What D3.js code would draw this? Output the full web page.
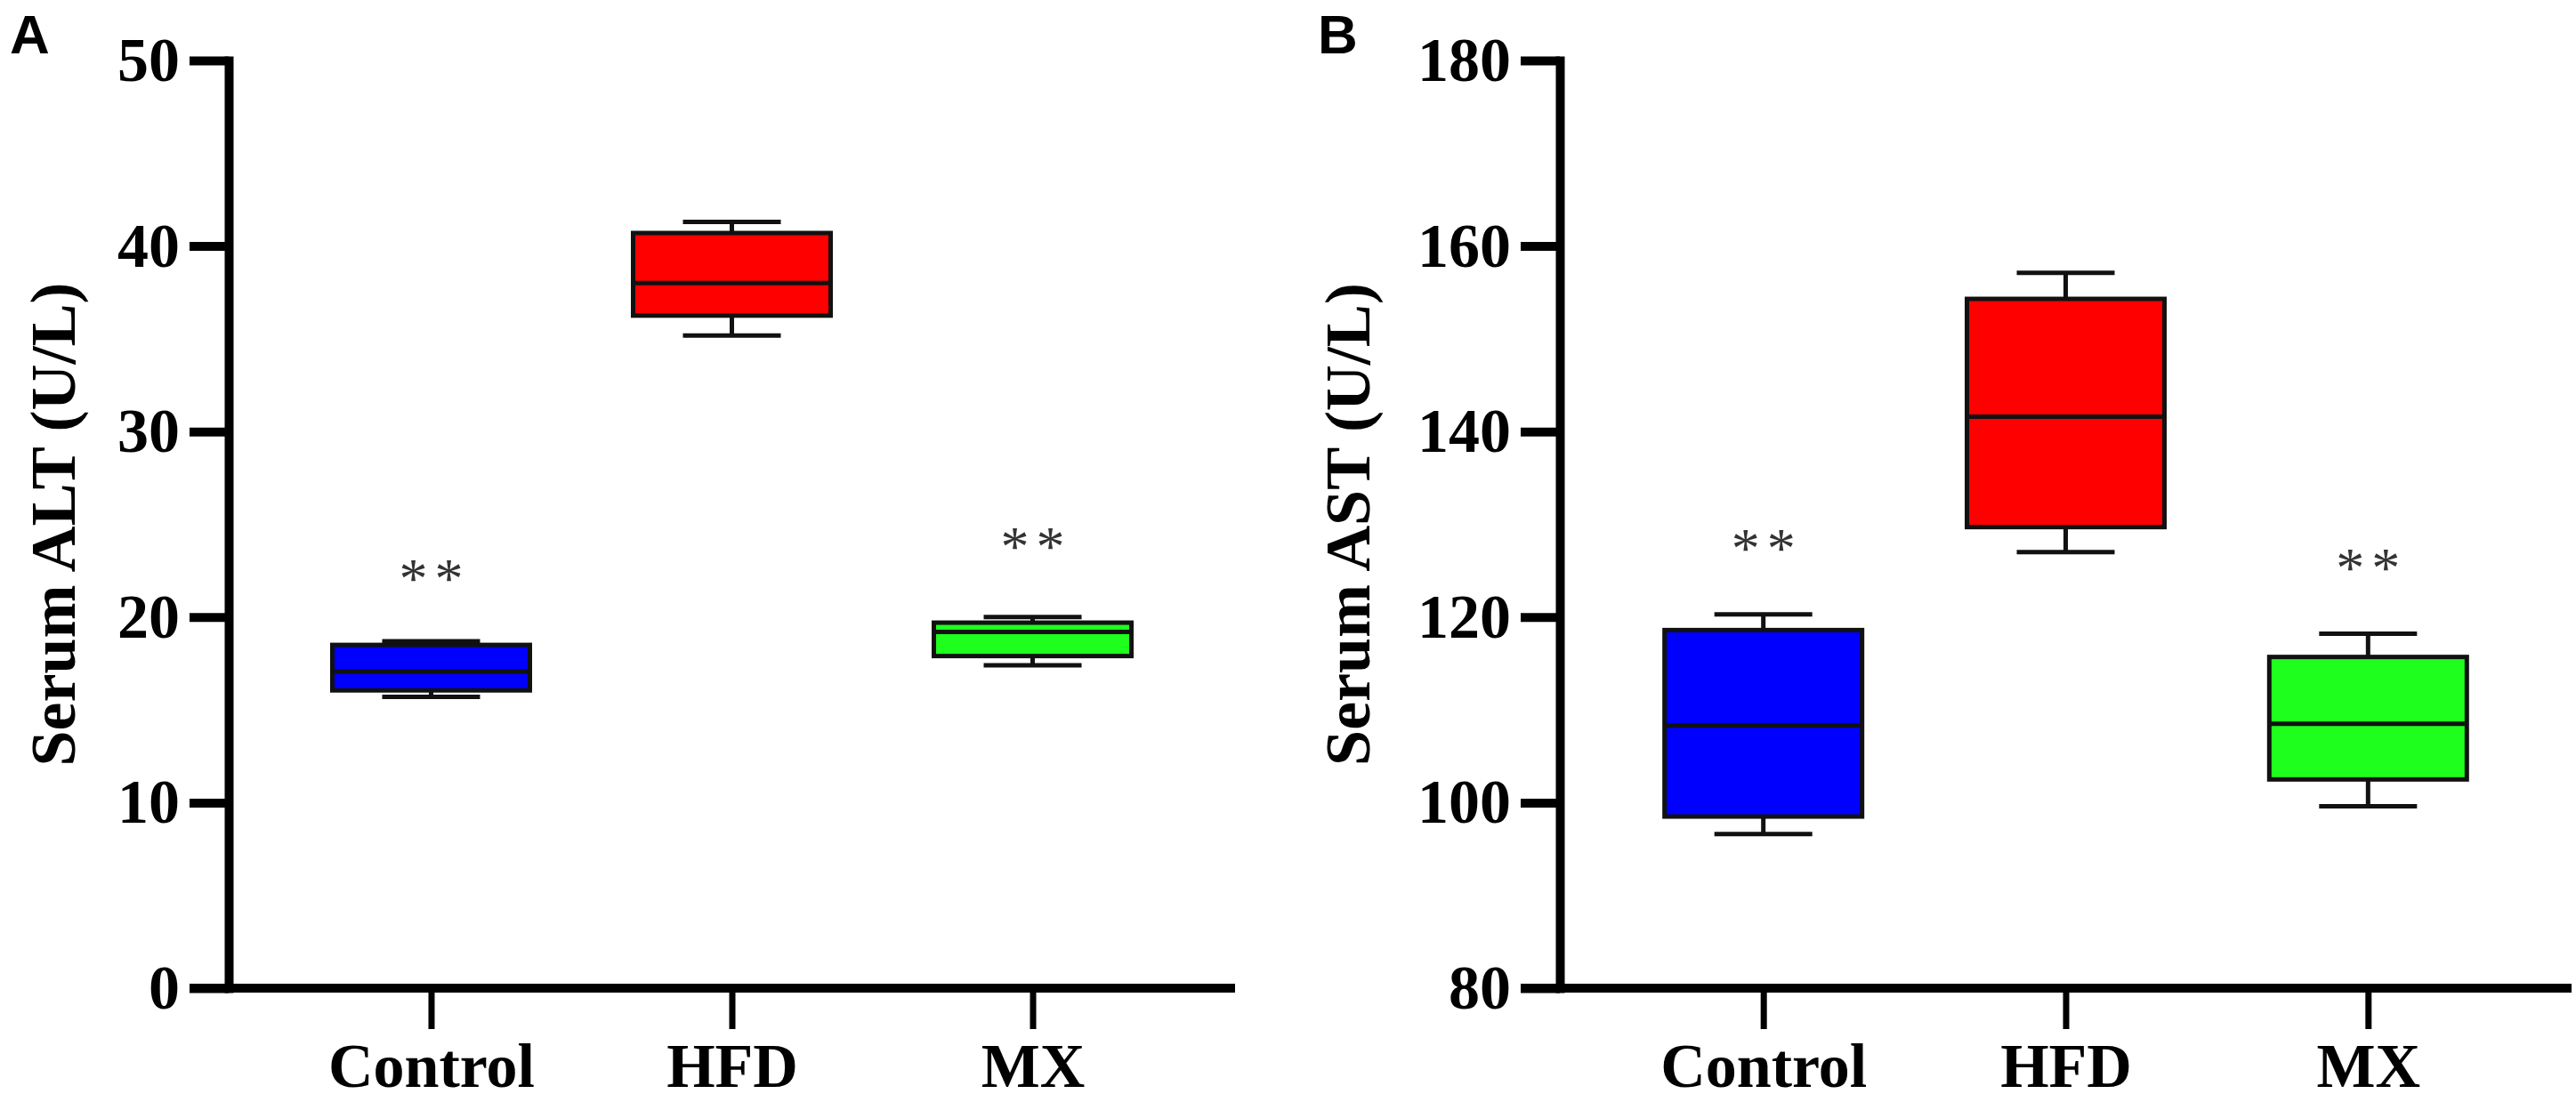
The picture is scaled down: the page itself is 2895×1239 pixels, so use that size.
<!DOCTYPE html>
<html>
<head>
<meta charset="utf-8">
<script src="https://cdn.jsdelivr.net/npm/d3@7"></script>
<style>
  html, body { margin: 0; padding: 0; background: #fff; }
  svg { display: block; }
</style>
</head>
<body>
<div id="chart"></div>
<script>
// ---- Data ----
const categories = ["Control", "HFD", "MX"];
const colors = ["#0000ff", "#ff0000", "#1eff1e"];

// Serum ALT (U/L): [min, q1, median, q3, max]
const altMin    = [15.7, 35.17, 17.4];
const altQ1     = [16.05, 36.25, 17.9];
const altMedian = [17.07, 38.0, 19.2];
const altQ3     = [18.5, 40.7, 19.7];
const altMax    = [18.7, 41.3, 20.0];
const altStars  = [22.5, null, 24.2];
const altTicks  = [0, 10, 20, 30, 40, 50];

// Serum AST (U/L)
const astMin    = [96.6, 127.0, 99.6];
const astQ1     = [98.5, 129.7, 102.5];
const astMedian = [108.3, 141.6, 108.5];
const astQ3     = [118.6, 154.3, 115.7];
const astMax    = [120.3, 157.1, 118.2];
const astStars  = [128.2, null, 126.1];
const astTicks  = [80, 100, 120, 140, 160, 180];

const W = 2895, H = 1239;
const svg = d3.select("#chart").append("svg").attr("width", W).attr("height", H);

const serif = "'Liberation Serif', 'Times New Roman', serif";
const sans = "'Liberation Sans', Arial, sans-serif";

function panel(cfg) {
  const g = svg.append("g");
  const y = d3.scaleLinear().domain(cfg.domain).range([1111, 68]);
  const x = d3.scalePoint().domain(categories).range([cfg.left, cfg.right]).padding(0.673);

  // y axis
  const ya = g.append("g").attr("transform", `translate(${cfg.left},0)`)
    .call(d3.axisLeft(y).tickValues(cfg.ticks).tickSize(44).tickSizeOuter(0).tickPadding(11).tickFormat(d3.format("d")));
  ya.select(".domain").attr("stroke-width", 10).attr("stroke-linecap", "square").attr("stroke", "#000");
  ya.selectAll(".tick line").attr("stroke-width", 10).attr("stroke", "#000");
  ya.selectAll(".tick text").attr("font-family", serif).attr("font-weight", "bold")
    .attr("font-size", 70).attr("fill", "#000");

  // x axis
  const xa = g.append("g").attr("transform", `translate(0,${y(cfg.domain[0])})`)
    .call(d3.axisBottom(x).tickSize(46).tickSizeOuter(0).tickPadding(15));
  xa.select(".domain").remove();
  xa.append("line").attr("x1", cfg.left - 44).attr("x2", cfg.right)
    .attr("y1", 0).attr("y2", 0).attr("stroke", "#000").attr("stroke-width", 10);
  xa.selectAll(".tick line").attr("stroke-width", 7).attr("stroke", "#000");
  xa.selectAll(".tick text").attr("font-family", serif).attr("font-weight", "bold")
    .attr("font-size", 70).attr("fill", "#000");

  // y title
  g.append("text")
    .attr("transform", `translate(${cfg.titleX},${(y.range()[0] + y.range()[1]) / 2}) rotate(-90)`)
    .attr("text-anchor", "middle").attr("dominant-baseline", "central")
    .attr("font-family", serif).attr("font-weight", "bold").attr("font-size", 72)
    .text(cfg.title);

  // panel letter
  g.append("text").attr("x", cfg.letterX).attr("y", 60)
    .attr("font-family", sans).attr("font-weight", "bold").attr("font-size", 62)
    .text(cfg.letter);

  const boxW = 222, capW = 110;
  const data = categories.map((c, i) => ({
    c, color: colors[i], min: cfg.min[i], q1: cfg.q1[i], med: cfg.med[i], q3: cfg.q3[i], max: cfg.max[i], star: cfg.stars[i]
  }));

  const bx = g.selectAll(".box").data(data).join("g").attr("class", "box");
  // whiskers
  bx.append("line").attr("x1", d => x(d.c)).attr("x2", d => x(d.c))
    .attr("y1", d => y(d.max)).attr("y2", d => y(d.q3)).attr("stroke", "#111").attr("stroke-width", 5);
  bx.append("line").attr("x1", d => x(d.c)).attr("x2", d => x(d.c))
    .attr("y1", d => y(d.q1)).attr("y2", d => y(d.min)).attr("stroke", "#111").attr("stroke-width", 5);
  bx.append("line").attr("x1", d => x(d.c) - capW / 2).attr("x2", d => x(d.c) + capW / 2)
    .attr("y1", d => y(d.max)).attr("y2", d => y(d.max)).attr("stroke", "#111").attr("stroke-width", 5);
  bx.append("line").attr("x1", d => x(d.c) - capW / 2).attr("x2", d => x(d.c) + capW / 2)
    .attr("y1", d => y(d.min)).attr("y2", d => y(d.min)).attr("stroke", "#111").attr("stroke-width", 5);
  // box
  bx.append("rect").attr("x", d => x(d.c) - boxW / 2).attr("width", boxW)
    .attr("y", d => y(d.q3)).attr("height", d => y(d.q1) - y(d.q3))
    .attr("fill", d => d.color).attr("stroke", "#111").attr("stroke-width", 5);
  // median
  bx.append("line").attr("x1", d => x(d.c) - boxW / 2).attr("x2", d => x(d.c) + boxW / 2)
    .attr("y1", d => y(d.med)).attr("y2", d => y(d.med)).attr("stroke", "#111").attr("stroke-width", 5);

  // significance stars
  g.selectAll(".star").data(data.filter(d => d.star != null)).join("text")
    .attr("class", "star")
    .attr("x", d => x(d.c) + 4).attr("y", d => y(d.star) + 30)
    .attr("text-anchor", "middle")
    .attr("font-family", serif).attr("font-size", 64).attr("fill", "#333")
    .attr("letter-spacing", 8)
    .text("**");
}

panel({ domain: [0, 50], ticks: altTicks, left: 257, right: 1388, titleX: 60,
  title: "Serum ALT (U/L)", letter: "A", letterX: 11,
  min: altMin, q1: altQ1, med: altMedian, q3: altQ3, max: altMax, stars: altStars });

panel({ domain: [80, 180], ticks: astTicks, left: 1753, right: 2890, titleX: 1515,
  title: "Serum AST (U/L)", letter: "B", letterX: 1481,
  min: astMin, q1: astQ1, med: astMedian, q3: astQ3, max: astMax, stars: astStars });
</script>
</body>
</html>
